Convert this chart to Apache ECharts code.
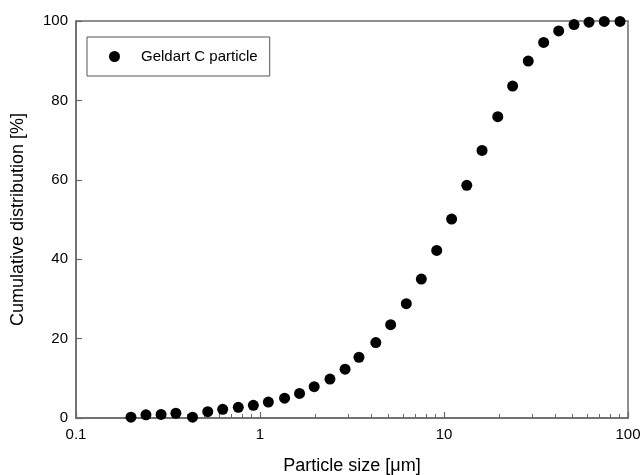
<!DOCTYPE html>
<html>
<head>
<meta charset="utf-8">
<script src="https://cdn.jsdelivr.net/npm/echarts@6/dist/echarts.min.js"></script>
<style>
  html, body { margin: 0; padding: 0; background: #fff; }
  #chart { width: 643px; height: 475px; }
</style>
</head>
<body>
<div id="chart"></div>
<script>
// Particle size (µm) and cumulative distribution (%)
const particleSize = [0.199, 0.240, 0.290, 0.349, 0.430, 0.520, 0.627, 0.762, 0.920, 1.11,
  1.36, 1.64, 1.97, 2.40, 2.90, 3.45, 4.26, 5.13, 6.24, 7.53, 9.13, 11.0, 13.3, 16.1,
  19.6, 23.6, 28.7, 34.8, 42.0, 50.9, 61.4, 74.3, 90.5];
const cumulative = [0.2, 0.8, 0.9, 1.2, 0.2, 1.6, 2.2, 2.7, 3.2, 4.0,
  5.0, 6.2, 7.9, 9.8, 12.3, 15.3, 19.0, 23.5, 28.8, 35.0, 42.2, 50.1, 58.6, 67.4,
  75.9, 83.6, 89.9, 94.6, 97.5, 99.1, 99.7, 99.9, 99.9];
const seriesName = 'Geldart C particle';
const xMinorTicks = [0.2, 0.3, 0.4, 0.5, 0.6, 0.7, 0.8, 0.9, 2, 3, 4, 5, 6, 7, 8, 9,
  20, 30, 40, 50, 60, 70, 80, 90];

const axisColor = '#6a6a6a';
const font = 'Liberation Sans, Arial, sans-serif';

const chart = echarts.init(document.getElementById('chart'), null, { renderer: 'canvas' });

chart.setOption({
  animation: false,
  backgroundColor: '#fff',
  grid: {
    left: 76, top: 21, right: 15, bottom: 57,
    outerBoundsMode: 'none',
    containLabel: false,
    show: true, borderColor: axisColor, borderWidth: 1.5
  },
  legend: {
    left: 87, top: 37,
    orient: 'vertical',
    data: [seriesName],
    icon: 'circle',
    itemWidth: 11, itemHeight: 11,
    padding: [12, 12, 12, 22],
    borderColor: '#555', borderWidth: 1,
    textStyle: { fontFamily: font, fontSize: 15, color: '#000', padding: [0, 0, 0, 16] }
  },
  xAxis: [{
    type: 'log', logBase: 10, min: 0.1, max: 100,
    name: 'Particle size [\u03bcm]',
    nameLocation: 'middle', nameGap: 39,
    nameTextStyle: { fontFamily: font, fontSize: 18, color: '#000' },
    axisLine: { show: true, lineStyle: { color: axisColor, width: 1.5 } },
    axisTick: { show: true, inside: true, length: 6, lineStyle: { color: axisColor, width: 1.2 } },
    axisLabel: { fontFamily: font, fontSize: 15, color: '#000', margin: 9 },
    splitLine: { show: false }
  }, {
    type: 'log', logBase: 10, min: 0.1, max: 100,
    gridIndex: 0, position: 'bottom',
    axisLine: { show: false },
    axisTick: { show: true, inside: true, length: 4, customValues: xMinorTicks,
      lineStyle: { color: axisColor, width: 1 } },
    axisLabel: { show: false },
    splitLine: { show: false }
  }],
  yAxis: {
    type: 'value', min: 0, max: 100, interval: 20,
    name: 'Cumulative distribution [%]',
    nameLocation: 'middle', nameGap: 49,
    nameTextStyle: { fontFamily: font, fontSize: 18, color: '#000' },
    axisLine: { show: true, lineStyle: { color: axisColor, width: 1.5 } },
    axisTick: { show: true, inside: true, length: 6, lineStyle: { color: axisColor, width: 1.2 } },
    axisLabel: { fontFamily: font, fontSize: 15, color: '#000', margin: 8 },
    splitLine: { show: false }
  },
  series: [{
    name: seriesName,
    type: 'scatter',
    xAxisIndex: 0,
    symbol: 'circle',
    symbolSize: 11,
    itemStyle: { color: '#000', opacity: 1 },
    data: particleSize.map((s, i) => [s, cumulative[i]])
  }]
});
</script>
</body>
</html>
